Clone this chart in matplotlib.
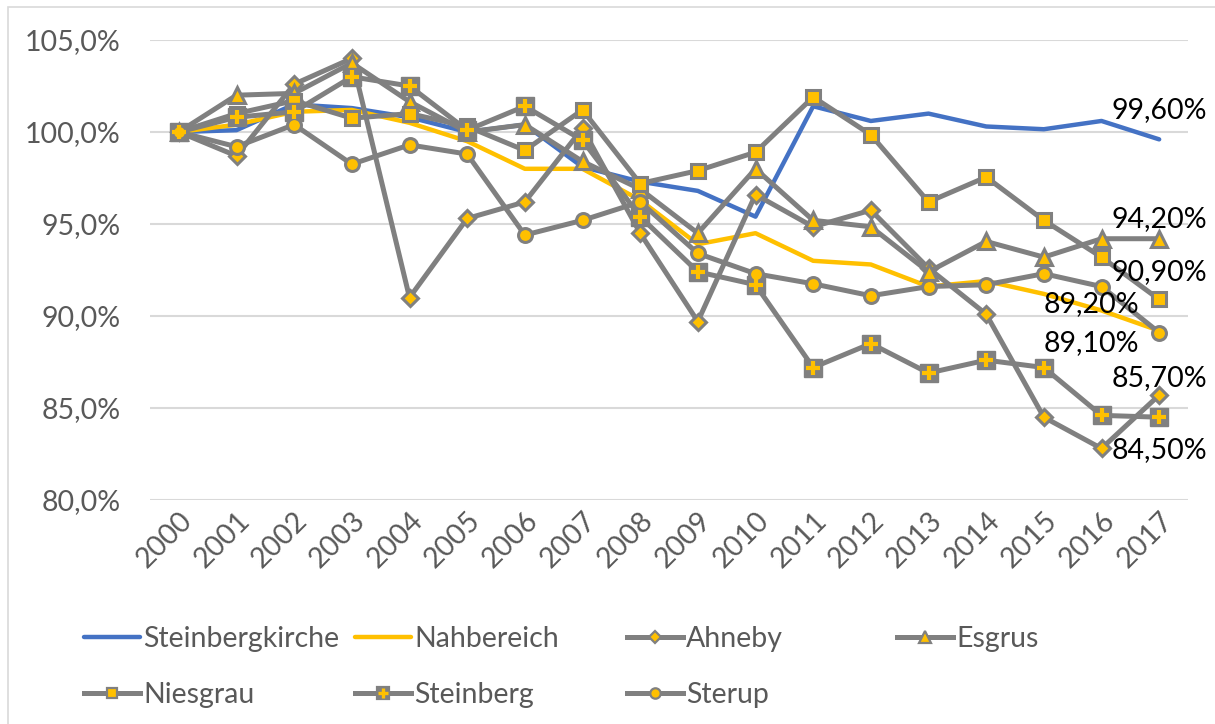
import matplotlib
matplotlib.use("Agg")
import matplotlib.pyplot as plt
import matplotlib.transforms as mtransforms
from matplotlib.lines import Line2D
from matplotlib.patches import Rectangle
from matplotlib.ticker import FuncFormatter, MultipleLocator

plt.rcParams['font.family'] = ['Lato', 'DejaVu Sans']

# DANE (indeks, 2000 = 100 %)
lata = [str(r) for r in range(2000, 2018)]
steinbergkirche = [100.0, 100.1, 101.5, 101.3, 100.8, 100.0, 100.4, 98.1, 97.3,
                   96.8, 95.4, 101.4, 100.6, 101.0, 100.3, 100.15, 100.6, 99.6]
nahbereich = [100.0, 100.4, 101.1, 101.2, 100.5, 99.5, 98.0, 98.0, 96.3,
              93.9, 94.5, 93.0, 92.8, 91.6, 91.9, 91.2, 90.3, 89.2]
ahneby = [100.0, 98.7, 102.6, 104.0, 91.0, 95.3, 96.2, 100.2, 94.5,
          89.7, 96.6, 94.85, 95.75, 92.6, 90.1, 84.5, 82.8, 85.7]
esgrus = [100.0, 102.0, 102.1, 103.75, 101.65, 100.0, 100.4, 98.4, 96.9,
          94.5, 98.0, 95.2, 94.85, 92.4, 94.05, 93.2, 94.2, 94.2]
niesgrau = [100.0, 101.0, 101.7, 100.75, 101.0, 100.3, 99.0, 101.2, 97.2,
            97.9, 98.9, 101.9, 99.85, 96.2, 97.55, 95.2, 93.2, 90.9]
steinberg = [100.0, 100.8, 101.1, 103.0, 102.5, 100.1, 101.4, 99.55, 95.4,
             92.4, 91.7, 87.2, 88.5, 86.9, 87.6, 87.2, 84.6, 84.5]
sterup = [100.0, 99.2, 100.4, 98.25, 99.3, 98.8, 94.4, 95.2, 96.2,
          93.4, 92.3, 91.75, 91.1, 91.6, 91.7, 92.3, 91.6, 89.1]

# etykiety danych na końcu serii: (seria, tekst, przesunięcie w px)
etykiety = [
    (steinbergkirche, '99,60%', (0, 29)),
    (esgrus, '94,20%', (0, 20)),
    (niesgrau, '90,90%', (0, 27)),
    (nahbereich, '89,20%', (-68, 27)),
    (sterup, '89,10%', (-68, -10)),
    (ahneby, '85,70%', (0, 17)),
    (steinberg, '84,50%', (0, -33)),
]

NIEBIESKI = '#4472C4'
ZOLTY = '#FFC000'
SZARY = '#808080'
TEKST = '#595959'
FS = 20.5

fig = plt.figure(figsize=(12.15, 7.24), dpi=100)
ax = fig.add_axes([150 / 1215, 1 - 500 / 724, (1188 - 150) / 1215, 460 / 724])

x = list(range(len(lata)))

ax.plot(x, steinbergkirche, color=NIEBIESKI, lw=3.2, solid_capstyle='round', zorder=3)
ax.plot(x, nahbereich, color=ZOLTY, lw=3.2, solid_capstyle='round', zorder=3)

wspolne = dict(color=SZARY, lw=3.6, mfc=ZOLTY, mec=SZARY, zorder=4)
ax.plot(x, ahneby, marker='D', ms=8.5, mew=2.2, **wspolne)
ax.plot(x, esgrus, marker='^', ms=11, mew=2.2, **wspolne)
ax.plot(x, niesgrau, marker='s', ms=10.5, mew=2.2, **wspolne)
ax.plot(x, steinberg, color=SZARY, lw=3.6, marker='s', ms=13, mfc=SZARY,
        mec=SZARY, zorder=4)
ax.plot(x, steinberg, ls='none', marker='+', ms=10.5, mew=3, color=ZOLTY, zorder=5)
ax.plot(x, sterup, marker='o', ms=10, mew=2.2, **wspolne)

for seria, tekst, (dx, dy) in etykiety:
    ax.annotate(tekst, xy=(x[-1], seria[-1]), xytext=(dx * 0.72, dy * 0.72),
                textcoords='offset points', ha='center', va='center',
                fontsize=FS, color='black', zorder=6)

ax.set_xlim(-0.5, len(lata) - 0.5)
ax.set_ylim(80, 105)
ax.yaxis.set_major_locator(MultipleLocator(5))
ax.yaxis.set_major_formatter(FuncFormatter(lambda v, p: f'{v:.1f}%'.replace('.', ',')))
ax.set_xticks(x)
ax.set_xticklabels(lata, rotation=45, ha='right', va='top', rotation_mode='anchor')
przes = mtransforms.ScaledTranslation(10 / 100, 0, fig.dpi_scale_trans)
for lab in ax.get_xticklabels():
    lab.set_transform(lab.get_transform() + przes)

ax.tick_params(axis='both', length=0, labelsize=FS, labelcolor=TEKST)
ax.tick_params(axis='y', pad=21)
ax.tick_params(axis='x', pad=5)
for s in ax.spines.values():
    s.set_visible(False)
ax.grid(axis='y', color='#D9D9D9', lw=1.5)
ax.set_axisbelow(True)

# LEGENDA: cztery kolumny o równej szerokości
def uchwyt(marker=None, ms=0, mfc=ZOLTY, kolor=SZARY):
    return Line2D([], [], color=kolor, lw=3.6, marker=marker, ms=ms,
                  mfc=mfc, mec=SZARY, mew=1.6)

h_kirche = Line2D([], [], color=NIEBIESKI, lw=3.2, solid_capstyle='round')
h_nah = Line2D([], [], color=ZOLTY, lw=3.2, solid_capstyle='round')
h_ahneby = uchwyt('D', 6.5)
h_esgrus = uchwyt('^', 8)
h_nies = uchwyt('s', 7.5)
h_stein = (uchwyt('s', 9, mfc=SZARY),
           Line2D([], [], ls='none', marker='+', ms=7.5, mew=2.4, color=ZOLTY))
h_sterup = uchwyt('o', 7.5)

kolumny = [
    ([h_kirche, h_nies], ['Steinbergkirche', 'Niesgrau'], 84),
    ([h_nah, h_stein], ['Nahbereich', 'Steinberg'], 355),
    ([h_ahneby, h_sterup], ['Ahneby', 'Sterup'], 627),
    ([h_esgrus], ['Esgrus'], 897),
]
for uchwyty, nazwy, xpx in kolumny:
    leg = fig.legend(uchwyty, nazwy, loc='upper left',
                     bbox_to_anchor=(xpx / 1215, 1 - 626 / 724),
                     frameon=False, fontsize=FS, handlelength=1.95,
                     handletextpad=0.12, labelspacing=1.05, borderpad=0,
                     borderaxespad=0, numpoints=1)
    for t in leg.get_texts():
        t.set_color(TEKST)

# ramka wykresu
fig.patches.append(Rectangle((8 / 1215, -0.1), 1.2, 1 - 7 / 724 + 0.1,
                             transform=fig.transFigure, fill=False,
                             edgecolor='#D9D9D9', lw=1.2))

fig.savefig('out.png', dpi=100)
